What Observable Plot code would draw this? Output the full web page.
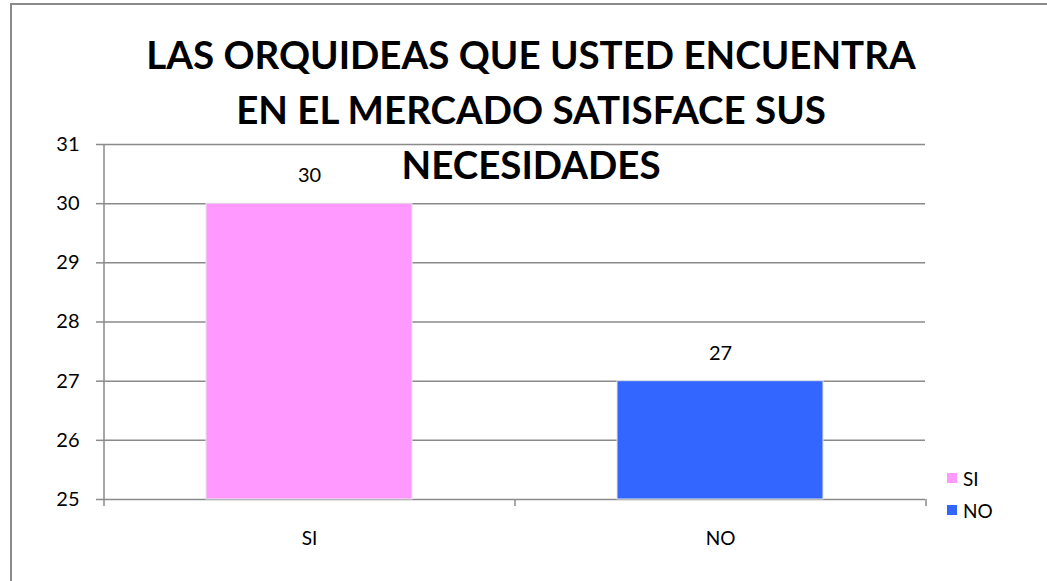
<!DOCTYPE html>
<html>
<head>
<meta charset="utf-8">
<script src="https://cdn.jsdelivr.net/npm/d3@7"></script>
<script src="https://cdn.jsdelivr.net/npm/@observablehq/plot@0.6"></script>
<style>
  body { margin: 0; background: #fff; }
  #wrap { position: relative; width: 1047px; height: 581px; overflow: hidden; font-family: Lato, "Open Sans", sans-serif; }
  #border { position: absolute; left: 10px; top: 3px; width: 1100px; height: 700px; border: 2px solid #8a8a8a; box-sizing: border-box; }
  #title { position: absolute; left: 0; width: 1062px; top: 27px; text-align: center; font-weight: 700; font-size: 38.5px; line-height: 55px; color: #000; }
  #chart { position: absolute; left: 0; top: 0; }
  #legend { position: absolute; left: 947px; top: 462px; font-size: 19px; color: #000; }
  #legend div { height: 32px; display: flex; align-items: center; }
  #legend span.sw { display: inline-block; width: 10px; height: 10px; margin-right: 6px; }
</style>
</head>
<body>
<div id="wrap">
  <div id="border"></div>
  <div id="chart"></div>
  <div id="title">LAS ORQUIDEAS QUE USTED ENCUENTRA<br>EN EL MERCADO SATISFACE SUS<br>NECESIDADES</div>
  <div id="legend"></div>
</div>
<script>
const categories = ["SI", "NO"];
const values = [30, 27];
const colors = ["#FF99FF", "#3366FF"];
const yTicks = [25, 26, 27, 28, 29, 30, 31];

const data = categories.map((c, i) => ({cat: c, value: values[i], color: colors[i]}));
const gray = "#8a8a8a";

const chart = Plot.plot({
  width: 1047,
  height: 581,
  marginLeft: 103,
  marginRight: 122,
  marginTop: 144,
  marginBottom: 82,
  style: {fontFamily: "Lato, 'Open Sans', sans-serif", fontSize: "20px", color: "#000", background: "transparent"},
  x: {domain: categories, paddingInner: 0.5, paddingOuter: 0.25, label: null},
  y: {domain: [25, 31], label: null},
  marks: [
    Plot.gridY(yTicks, {stroke: gray, strokeOpacity: 1, strokeWidth: 1.5}),
    Plot.barY(data, {x: "cat", y1: 25, y2: "value", fill: "color", stroke: "#e6e6e6", strokeWidth: 1}),
    Plot.ruleX([categories[0]], {x: d => d, dx: -205.5, y1: 25, y2: 31, stroke: gray, strokeWidth: 1.5}),
    Plot.axisY(yTicks, {tickSize: 7, tickPadding: 17, tickFormat: d3.format("d"), stroke: gray, strokeWidth: 1.5, fontSize: 20, fill: "#000"}),
    Plot.axisX(categories, {tickSize: 7, dx: -205.5, text: null, stroke: gray, strokeWidth: 1.5}),
    Plot.axisX([categories[categories.length - 1]], {tickSize: 7, dx: 205.5, text: null, stroke: gray, strokeWidth: 1.5}),
    Plot.axisX(categories, {tickSize: 0, tickPadding: 32, fontSize: 19, fill: "#000", label: null}),
    Plot.text(data, {x: "cat", y: "value", text: d => String(d.value), dy: -28, fontSize: 20, fill: "#000"})
  ]
});
document.getElementById("chart").appendChild(chart);

const legend = document.getElementById("legend");
data.forEach(d => {
  const row = document.createElement("div");
  row.innerHTML = `<span class="sw" style="background:${d.color}"></span>${d.cat}`;
  legend.appendChild(row);
});
</script>
</body>
</html>
